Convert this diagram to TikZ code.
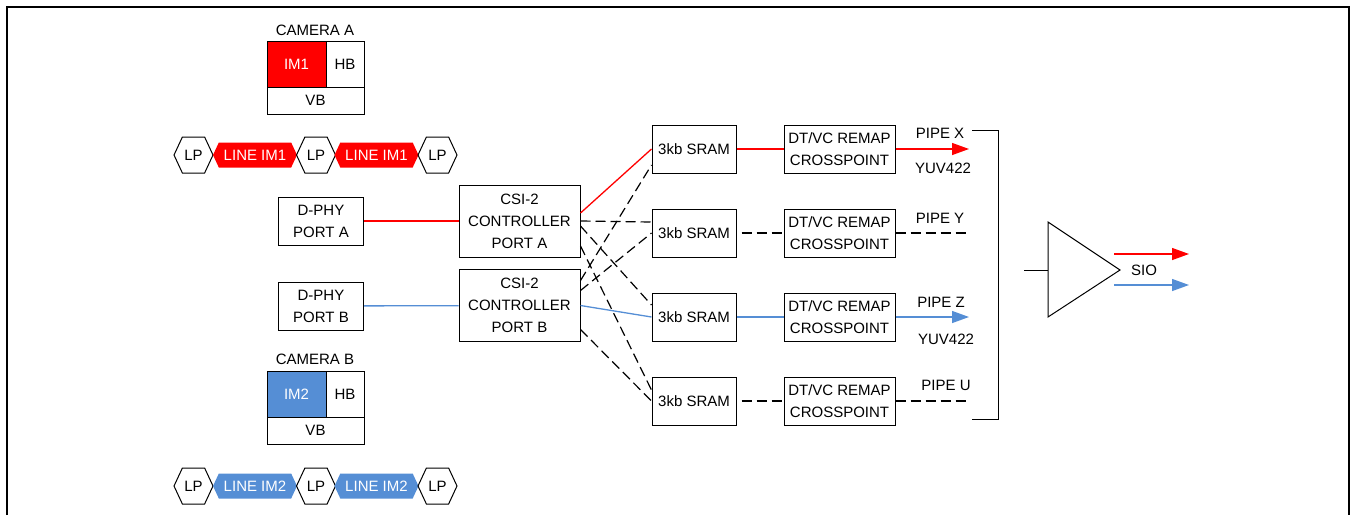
\documentclass[tikz,border=0pt]{standalone}
\usepackage{fontspec}
\setmainfont{Liberation Sans}
\usepackage{xcolor}
\usepackage{tikz}
\usetikzlibrary{arrows.meta,shapes.symbols,calc}
\definecolor{imred}{RGB}{255,0,0}
\definecolor{imblue}{RGB}{85,142,213}
\tikzset{every node/.append style={font=\fontsize{15}{22}\selectfont}}
\tikzset{
  blk/.style={draw,line width=1pt,inner sep=0pt,align=center},
  cell/.style={blk,minimum height=46pt},
  sram/.style={blk,minimum width=84pt,minimum height=48pt},
  remap/.style={blk,minimum width=111pt,minimum height=48pt},
  csi/.style={blk,minimum width=121pt,minimum height=72pt},
  dphy/.style={blk,minimum width=85pt,minimum height=48pt},
  lp/.style={draw,line width=1pt,shape=signal,signal to=west and east,signal pointer angle=130,minimum width=39pt,minimum height=36pt,inner sep=0pt},
  imline/.style={shape=signal,signal to=west and east,signal pointer angle=130,minimum width=84pt,minimum height=25pt,inner sep=0pt,text=white},
  dsh/.style={line width=1.2pt,dash pattern=on 10pt off 5pt},
  wire/.style={line width=1.3pt},
  arr/.style={-{Triangle[length=17pt,width=12pt]}},
}

\begin{document}
\begin{tikzpicture}[x=1pt,y=-1pt]
      \useasboundingbox (0,0) rectangle (1351,515);
      \draw[line width=1.5pt] (7,515) -- (7,7) -- (1349,7) -- (1349,515);

      \node at (315,30) (cama) {CAMERA A};
      \node[cell,fill=imred,text=white,minimum width=59pt] at (296.5,64) (im1) {IM1};
      \node[cell,minimum width=38pt] at (345,64) (hba) {HB};
      \node[blk,minimum width=97pt,minimum height=27pt] at (315.5,100.5) (vba) {VB};

      \node[lp] at (193.5,155) (lpa1) {LP};
      \node[imline,fill=imred] at (255,155) (linea1) {LINE IM1};
      \node[lp] at (316,155) (lpa2) {LP};
      \node[imline,fill=imred] at (376.5,155) (linea2) {LINE IM1};
      \node[lp] at (437.5,155) (lpa3) {LP};

      \node at (315,359) (camb) {CAMERA B};
      \node[cell,fill=imblue,text=white,minimum width=59pt] at (296.5,394.5) (im2) {IM2};
      \node[cell,minimum width=38pt] at (345,394.5) (hbb) {HB};
      \node[blk,minimum width=97pt,minimum height=27pt] at (315.5,430.5) (vbb) {VB};

      \node[lp] at (193.5,486) (lpb1) {LP};
      \node[imline,fill=imblue] at (255,486) (lineb1) {LINE IM2};
      \node[lp] at (316,486) (lpb2) {LP};
      \node[imline,fill=imblue] at (376.5,486) (lineb2) {LINE IM2};
      \node[lp] at (437.5,486) (lpb3) {LP};

      \node[dphy] at (321,221) (dphya) {D-PHY\\PORT A};
      \node[dphy] at (321,306) (dphyb) {D-PHY\\PORT B};
      \node[csi] at (519.5,221) (csia) {CSI-2\\CONTROLLER\\PORT A};
      \node[csi] at (519.5,305.5) (csib) {CSI-2\\CONTROLLER\\PORT B};

      \node[sram] at (694,149) (srama) {3kb SRAM};
      \node[sram] at (694,233) (sramb) {3kb SRAM};
      \node[sram] at (694,317) (sramc) {3kb SRAM};
      \node[sram] at (694,401) (sramd) {3kb SRAM};

      \node[remap] at (839.5,149) (remapa) {DT/VC REMAP\\CROSSPOINT};
      \node[remap] at (839.5,233) (remapb) {DT/VC REMAP\\CROSSPOINT};
      \node[remap] at (839.5,317) (remapc) {DT/VC REMAP\\CROSSPOINT};
      \node[remap] at (839.5,401) (remapd) {DT/VC REMAP\\CROSSPOINT};

      \draw[wire,imred] (dphya) -- (csia);
      \draw[wire,imblue] (dphyb) -- (csib);

      \draw[wire,imred] ([yshift=8pt]csia.east) -- (srama.west);
      \draw[dsh] (csia.east) -- ([yshift=11pt]sramb.west);
      \draw[dsh] ([yshift=-5pt]csia.east) -- ([yshift=12pt]sramc.west);
      \draw[dsh] ([yshift=-25pt]csia.east) -- ([yshift=11pt]sramd.west);
      \draw[dsh] ([yshift=25pt]csib.east) -- ([yshift=-16pt]srama.west);
      \draw[dsh] ([yshift=15pt]csib.east) -- (sramb.west);
      \draw[wire,imblue] (csib.east) -- (sramc.west);
      \draw[dsh] ([yshift=-24pt]csib.east) -- (sramd.west);

      \draw[wire,imred] (srama) -- (remapa);
      \draw[dsh,dash phase=10pt] (sramb) -- (remapb);
      \draw[wire,imblue] (sramc) -- (remapc);
      \draw[dsh,dash phase=10pt] (sramd) -- (remapd);

      \coordinate (pipex) at (969,149);
      \coordinate (pipey) at (968,233);
      \coordinate (pipez) at (969,317);
      \coordinate (pipeu) at (968,401);
      \draw[wire,imred,arr] (remapa) -- (pipex);
      \draw[dsh] (remapb) -- (pipey);
      \draw[wire,imblue,arr] (remapc) -- (pipez);
      \draw[dsh] (remapd) -- (pipeu);

      \node at (940,133) (lblx) {PIPE X};
      \node at (943,168) (fmtx) {YUV422};
      \node at (940,218) (lbly) {PIPE Y};
      \node at (941,302) (lblz) {PIPE Z};
      \node at (946,339) (fmtz) {YUV422};
      \node at (946,385) (lblu) {PIPE U};

      \draw[line width=1pt] (972,130) -- (998,130) -- (998,419) -- (972,419);

      \coordinate (amptop) at (1048,222);
      \coordinate (ampout) at (1120,270);
      \coordinate (ampbot) at (1048,317);
      \coordinate (ampin) at (1048,270);
      \draw[line width=1pt] (amptop) -- (ampout) -- (ampbot) -- cycle;
      \coordinate (sioin) at (1024,270);
      \draw[line width=1pt] (sioin) -- (ampin);
      \coordinate (outr1) at (1114,254);
      \coordinate (outr2) at (1189,254);
      \coordinate (outb1) at (1114,285);
      \coordinate (outb2) at (1189,285);
      \draw[wire,imred,arr] (outr1) -- (outr2);
      \draw[wire,imblue,arr] (outb1) -- (outb2);
      \node at (1144,270) (siolbl) {SIO};
    \end{tikzpicture}
\end{document}
